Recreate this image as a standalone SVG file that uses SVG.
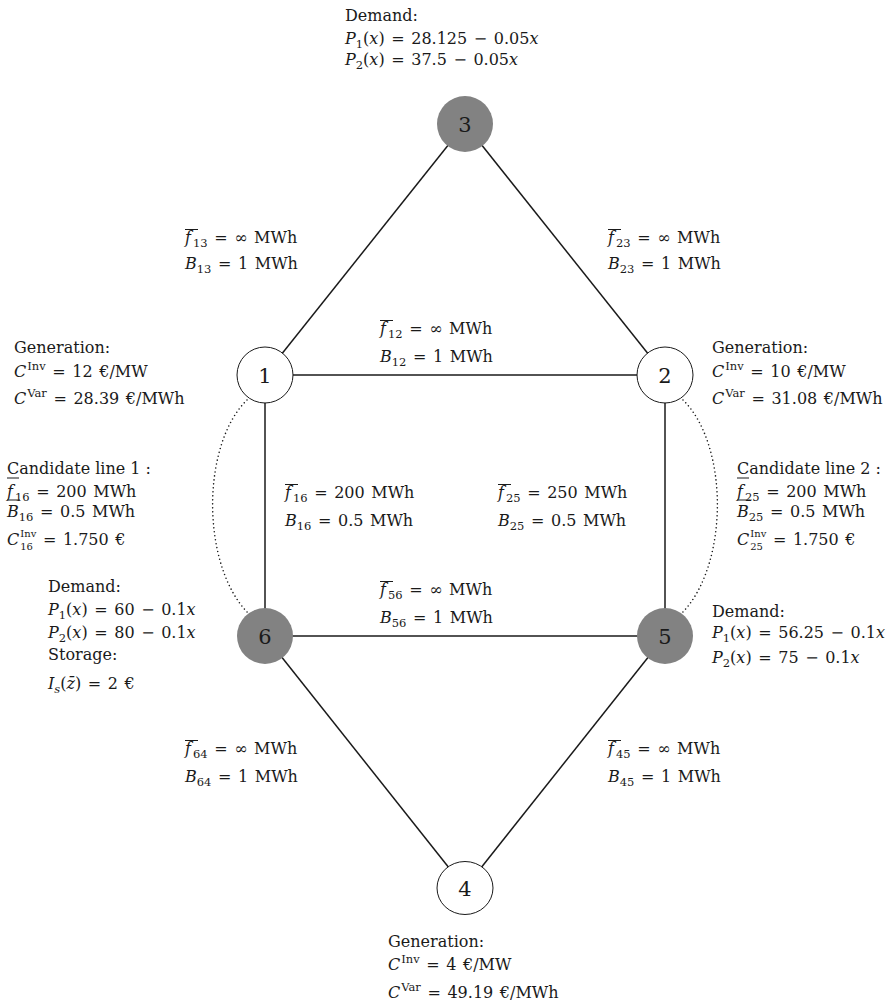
<svg xmlns="http://www.w3.org/2000/svg" width="888" height="1003" viewBox="0 0 888 1003">
  <style>
    .t { font-family: "DejaVu Serif", "Liberation Serif", serif; font-size: 16px; fill: #1a1a1a; }
    .m { word-spacing: 1.5px; }
    .i { font-style: italic; }
    .s { font-size: 11.5px; }
    .ss { font-size: 10px; }
    .num { font-family: "DejaVu Serif", "Liberation Serif", serif; font-size: 21px; fill: #1a1a1a; text-anchor: middle; }
    .edge { stroke: #1a1a1a; stroke-width: 1.5; fill: none; }
    .cand { stroke: #1a1a1a; stroke-width: 1.6; fill: none; stroke-dasharray: 0 4; stroke-linecap: round; }
    .bar { stroke: #1a1a1a; stroke-width: 1; }
    .open { fill: #ffffff; stroke: #1a1a1a; stroke-width: 1; }
    .load { fill: #828282; stroke: none; }
  </style>

  <rect width="888" height="1003" fill="#ffffff"/>

  <!-- transmission lines -->
  <g id="connectors">
    <line class="edge" x1="465" y1="124" x2="265" y2="375"/>
    <line class="edge" x1="465" y1="124" x2="665" y2="375"/>
    <line class="edge" x1="265" y1="375" x2="665" y2="375"/>
    <line class="edge" x1="265" y1="375" x2="265" y2="636"/>
    <line class="edge" x1="665" y1="375" x2="665" y2="636"/>
    <line class="edge" x1="265" y1="636" x2="665" y2="636"/>
    <line class="edge" x1="265" y1="636" x2="465" y2="888"/>
    <line class="edge" x1="665" y1="636" x2="465" y2="888"/>
    <!-- candidate lines (dotted) -->
    <path class="cand" d="M 247 400 C 201 445, 201 565, 248 613"/>
    <path class="cand" d="M 683 400 C 729 445, 729 565, 682 613"/>
  </g>

  <!-- line parameters -->
  <g id="edge-labels">
    <g id="label-13">
      <line class="bar" x1="185" y1="229.5" x2="198" y2="229.5"/>
      <text class="t m" x="185" y="243"><tspan class="i">f</tspan><tspan class="s" dx="2" dy="4">13</tspan><tspan dy="-4"> = ∞ MWh</tspan></text>
      <text class="t m" x="185" y="269"><tspan class="i">B</tspan><tspan class="s" dy="4">13</tspan><tspan dy="-4"> = 1 MWh</tspan></text>
    </g>
    <g id="label-23">
      <line class="bar" x1="608" y1="229.5" x2="621" y2="229.5"/>
      <text class="t m" x="608" y="243"><tspan class="i">f</tspan><tspan class="s" dx="2" dy="4">23</tspan><tspan dy="-4"> = ∞ MWh</tspan></text>
      <text class="t m" x="608" y="269"><tspan class="i">B</tspan><tspan class="s" dy="4">23</tspan><tspan dy="-4"> = 1 MWh</tspan></text>
    </g>
    <g id="label-12">
      <line class="bar" x1="380" y1="320.5" x2="393" y2="320.5"/>
      <text class="t m" x="380" y="334"><tspan class="i">f</tspan><tspan class="s" dx="2" dy="4">12</tspan><tspan dy="-4"> = ∞ MWh</tspan></text>
      <text class="t m" x="380" y="362"><tspan class="i">B</tspan><tspan class="s" dy="4">12</tspan><tspan dy="-4"> = 1 MWh</tspan></text>
    </g>
    <g id="label-16">
      <line class="bar" x1="285" y1="484.5" x2="298" y2="484.5"/>
      <text class="t m" x="285" y="498"><tspan class="i">f</tspan><tspan class="s" dx="2" dy="4">16</tspan><tspan dy="-4"> = 200 MWh</tspan></text>
      <text class="t m" x="285" y="526"><tspan class="i">B</tspan><tspan class="s" dy="4">16</tspan><tspan dy="-4"> = 0.5 MWh</tspan></text>
    </g>
    <g id="label-25">
      <line class="bar" x1="498" y1="484.5" x2="511" y2="484.5"/>
      <text class="t m" x="498" y="498"><tspan class="i">f</tspan><tspan class="s" dx="2" dy="4">25</tspan><tspan dy="-4"> = 250 MWh</tspan></text>
      <text class="t m" x="498" y="526"><tspan class="i">B</tspan><tspan class="s" dy="4">25</tspan><tspan dy="-4"> = 0.5 MWh</tspan></text>
    </g>
    <g id="label-56">
      <line class="bar" x1="380" y1="581.5" x2="393" y2="581.5"/>
      <text class="t m" x="380" y="595"><tspan class="i">f</tspan><tspan class="s" dx="2" dy="4">56</tspan><tspan dy="-4"> = ∞ MWh</tspan></text>
      <text class="t m" x="380" y="623"><tspan class="i">B</tspan><tspan class="s" dy="4">56</tspan><tspan dy="-4"> = 1 MWh</tspan></text>
    </g>
    <g id="label-64">
      <line class="bar" x1="185" y1="740.5" x2="198" y2="740.5"/>
      <text class="t m" x="185" y="754"><tspan class="i">f</tspan><tspan class="s" dx="2" dy="4">64</tspan><tspan dy="-4"> = ∞ MWh</tspan></text>
      <text class="t m" x="185" y="782"><tspan class="i">B</tspan><tspan class="s" dy="4">64</tspan><tspan dy="-4"> = 1 MWh</tspan></text>
    </g>
    <g id="label-45">
      <line class="bar" x1="608" y1="740.5" x2="621" y2="740.5"/>
      <text class="t m" x="608" y="754"><tspan class="i">f</tspan><tspan class="s" dx="2" dy="4">45</tspan><tspan dy="-4"> = ∞ MWh</tspan></text>
      <text class="t m" x="608" y="782"><tspan class="i">B</tspan><tspan class="s" dy="4">45</tspan><tspan dy="-4"> = 1 MWh</tspan></text>
    </g>
    <g id="candidate-1">
      <text class="t" x="7" y="474">Candidate line 1 :</text>
      <line class="bar" x1="7" y1="478" x2="19" y2="478"/>
      <line class="bar" x1="7" y1="500" x2="20" y2="500"/>
      <text class="t m" x="7" y="497"><tspan class="i">f</tspan><tspan class="s" dx="2" dy="4">16</tspan><tspan dy="-4"> = 200 MWh</tspan></text>
      <text class="t m" x="7" y="517"><tspan class="i">B</tspan><tspan class="s" dy="4">16</tspan><tspan dy="-4"> = 0.5 MWh</tspan></text>
      <text class="t m" x="7" y="545"><tspan class="i">C</tspan><tspan class="ss" dx="1" dy="4.5">16</tspan><tspan class="ss" dx="-12.7" dy="-12.5">Inv</tspan><tspan dy="8"> = 1.750 €</tspan></text>
    </g>
    <g id="candidate-2">
      <text class="t" x="737" y="474">Candidate line 2 :</text>
      <line class="bar" x1="737" y1="478" x2="749" y2="478"/>
      <line class="bar" x1="737" y1="500" x2="750" y2="500"/>
      <text class="t m" x="737" y="497"><tspan class="i">f</tspan><tspan class="s" dx="2" dy="4">25</tspan><tspan dy="-4"> = 200 MWh</tspan></text>
      <text class="t m" x="737" y="517"><tspan class="i">B</tspan><tspan class="s" dy="4">25</tspan><tspan dy="-4"> = 0.5 MWh</tspan></text>
      <text class="t m" x="737" y="545"><tspan class="i">C</tspan><tspan class="ss" dx="1" dy="4.5">25</tspan><tspan class="ss" dx="-12.7" dy="-12.5">Inv</tspan><tspan dy="8"> = 1.750 €</tspan></text>
    </g>
  </g>

  <!-- bus 1: generation -->
  <g id="node-1">
    <circle class="open" cx="265" cy="375" r="28"/>
    <text class="num" x="265" y="382.5">1</text>
    <text class="t" x="14" y="353">Generation:</text>
    <text class="t m" x="14" y="377"><tspan class="i">C</tspan><tspan class="s" dx="1" dy="-7">Inv</tspan><tspan dy="7"> = 12 €/MW</tspan></text>
    <text class="t m" x="14" y="404"><tspan class="i">C</tspan><tspan class="s" dx="1" dy="-7">Var</tspan><tspan dy="7"> = 28.39 €/MWh</tspan></text>
  </g>

  <!-- bus 2: generation -->
  <g id="node-2">
    <circle class="open" cx="665" cy="375" r="28"/>
    <text class="num" x="665" y="382.5">2</text>
    <text class="t" x="712" y="353">Generation:</text>
    <text class="t m" x="712" y="377"><tspan class="i">C</tspan><tspan class="s" dx="1" dy="-7">Inv</tspan><tspan dy="7"> = 10 €/MW</tspan></text>
    <text class="t m" x="712" y="404"><tspan class="i">C</tspan><tspan class="s" dx="1" dy="-7">Var</tspan><tspan dy="7"> = 31.08 €/MWh</tspan></text>
  </g>

  <!-- bus 3: demand -->
  <g id="node-3">
    <circle class="load" cx="465" cy="124" r="28"/>
    <text class="num" x="465" y="131.5">3</text>
    <text class="t" x="345" y="21">Demand:</text>
    <text class="t m" x="345" y="44"><tspan class="i">P</tspan><tspan class="s" dy="4">1</tspan><tspan dy="-4">(</tspan><tspan class="i">x</tspan>) = 28.125 − 0.05<tspan class="i">x</tspan></text>
    <text class="t m" x="345" y="65"><tspan class="i">P</tspan><tspan class="s" dy="4">2</tspan><tspan dy="-4">(</tspan><tspan class="i">x</tspan>) = 37.5 − 0.05<tspan class="i">x</tspan></text>
  </g>

  <!-- bus 4: generation -->
  <g id="node-4">
    <ellipse class="open" cx="465" cy="888" rx="28" ry="26.5"/>
    <text class="num" x="465" y="895.5">4</text>
    <text class="t" x="388" y="947">Generation:</text>
    <text class="t m" x="388" y="970"><tspan class="i">C</tspan><tspan class="s" dx="1" dy="-7">Inv</tspan><tspan dy="7"> = 4 €/MW</tspan></text>
    <text class="t m" x="388" y="998"><tspan class="i">C</tspan><tspan class="s" dx="1" dy="-7">Var</tspan><tspan dy="7"> = 49.19 €/MWh</tspan></text>
  </g>

  <!-- bus 5: demand -->
  <g id="node-5">
    <circle class="load" cx="665" cy="636" r="28"/>
    <text class="num" x="665" y="643.5">5</text>
    <text class="t" x="712" y="617">Demand:</text>
    <text class="t m" x="712" y="638"><tspan class="i">P</tspan><tspan class="s" dy="4">1</tspan><tspan dy="-4">(</tspan><tspan class="i">x</tspan>) = 56.25 − 0.1<tspan class="i">x</tspan></text>
    <text class="t m" x="712" y="663"><tspan class="i">P</tspan><tspan class="s" dy="4">2</tspan><tspan dy="-4">(</tspan><tspan class="i">x</tspan>) = 75 − 0.1<tspan class="i">x</tspan></text>
  </g>

  <!-- bus 6: demand and storage -->
  <g id="node-6">
    <circle class="load" cx="265" cy="636" r="28"/>
    <text class="num" x="265" y="643.5">6</text>
    <text class="t" x="48" y="592">Demand:</text>
    <text class="t m" x="48" y="615"><tspan class="i">P</tspan><tspan class="s" dy="4">1</tspan><tspan dy="-4">(</tspan><tspan class="i">x</tspan>) = 60 − 0.1<tspan class="i">x</tspan></text>
    <text class="t m" x="48" y="638"><tspan class="i">P</tspan><tspan class="s" dy="4">2</tspan><tspan dy="-4">(</tspan><tspan class="i">x</tspan>) = 80 − 0.1<tspan class="i">x</tspan></text>
    <text class="t" x="48" y="660">Storage:</text>
    <text class="t m" x="48" y="689"><tspan class="i">I</tspan><tspan class="s i" dy="4">s</tspan><tspan dy="-4">(</tspan><tspan class="i">z̄</tspan>) = 2 €</text>
  </g>
</svg>
